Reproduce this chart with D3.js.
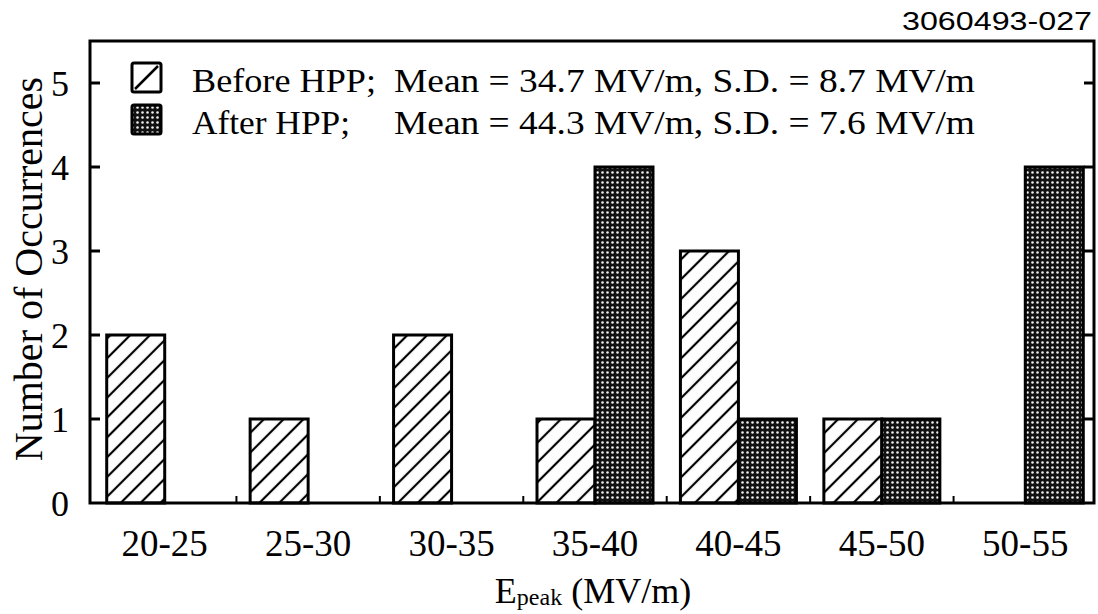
<!DOCTYPE html>
<html>
<head>
<meta charset="utf-8">
<script src="https://cdn.jsdelivr.net/npm/d3@7"></script>
<style>
body { margin: 0; background: #fff; }
text { fill: #000; }
</style>
</head>
<body>
<svg id="chart" width="1098" height="614"></svg>
<script>
// data
var categories = ["20-25", "25-30", "30-35", "35-40", "40-45", "45-50", "50-55"];
var beforeCounts = [2, 1, 2, 1, 3, 1, 0];
var afterCounts = [0, 0, 0, 4, 1, 1, 4];
var yTicks = [0, 1, 2, 3, 4, 5];
var legendLabels = ["Before HPP;", "After HPP;"];
var legendStats = ["Mean = 34.7 MV/m, S.D. = 8.7 MV/m", "Mean = 44.3 MV/m, S.D. = 7.6 MV/m"];

var svg = d3.select("#chart");
var plotLeft = 90, plotRight = 1094, plotTop = 41, plotBottom = 503;
var serif = "'Liberation Serif', 'Times New Roman', serif";

var x = d3.scaleBand().domain(categories).range([93, 1097]);
var y = d3.scaleLinear().domain([0, 5.5]).range([plotBottom, plotTop]);
var barW = 58;

// patterns
var defs = svg.append("defs");
var hatch = defs.append("pattern")
  .attr("id", "hatch")
  .attr("patternUnits", "userSpaceOnUse")
  .attr("width", 14).attr("height", 14)
  .attr("patternTransform", "rotate(45)");
hatch.append("rect").attr("width", 14).attr("height", 14).attr("fill", "#fff");
hatch.append("line")
  .attr("x1", 7).attr("y1", 0).attr("x2", 7).attr("y2", 14)
  .attr("stroke", "#000").attr("stroke-width", 2.2);

var dots = defs.append("pattern")
  .attr("id", "dots")
  .attr("patternUnits", "userSpaceOnUse")
  .attr("width", 5).attr("height", 5);
dots.append("rect").attr("width", 5).attr("height", 5).attr("fill", "#111");
dots.append("circle").attr("cx", 2.5).attr("cy", 2.5).attr("r", 1.3).attr("fill", "#eee");

// bars
var rows = categories.map(function (c, i) {
  return { cat: c, before: beforeCounts[i], after: afterCounts[i] };
});

svg.append("g").selectAll("rect")
  .data(rows.filter(function (d) { return d.before > 0; }))
  .enter().append("rect")
  .attr("x", function (d) { return x(d.cat) + x.bandwidth() / 2 - barW; })
  .attr("y", function (d) { return y(d.before); })
  .attr("width", barW)
  .attr("height", function (d) { return y(0) - y(d.before); })
  .attr("fill", "url(#hatch)")
  .attr("stroke", "#000")
  .attr("stroke-width", 3);

svg.append("g").selectAll("rect")
  .data(rows.filter(function (d) { return d.after > 0; }))
  .enter().append("rect")
  .attr("x", function (d) { return x(d.cat) + x.bandwidth() / 2; })
  .attr("y", function (d) { return y(d.after); })
  .attr("width", barW)
  .attr("height", function (d) { return y(0) - y(d.after); })
  .attr("fill", "url(#dots)")
  .attr("stroke", "#000")
  .attr("stroke-width", 3);

// frame
svg.append("rect")
  .attr("x", plotLeft).attr("y", plotTop)
  .attr("width", plotRight - plotLeft).attr("height", plotBottom - plotTop)
  .attr("fill", "none").attr("stroke", "#000").attr("stroke-width", 3);

// y ticks, inward on both sides
var tk = svg.append("g").attr("stroke", "#000").attr("stroke-width", 3);
yTicks.filter(function (t) { return t > 0; }).forEach(function (t) {
  tk.append("line").attr("x1", plotLeft).attr("x2", plotLeft + 10).attr("y1", y(t)).attr("y2", y(t));
  tk.append("line").attr("x1", plotRight - 10).attr("x2", plotRight).attr("y1", y(t)).attr("y2", y(t));
});
// small ticks between groups on the bottom
categories.slice(1).forEach(function (c) {
  tk.append("line").attr("x1", x(c)).attr("x2", x(c)).attr("y1", plotBottom).attr("y2", plotBottom - 7)
    .attr("stroke-width", 2);
});

svg.append("g").selectAll("text")
  .data(yTicks)
  .enter().append("text")
  .attr("x", 69)
  .attr("y", function (d) { return y(d) + 13; })
  .attr("text-anchor", "end")
  .style("font-family", serif)
  .style("font-size", "36px")
  .text(function (d) { return d; });

svg.append("g").selectAll("text")
  .data(categories)
  .enter().append("text")
  .attr("x", function (d) { return x(d) + x.bandwidth() / 2; })
  .attr("y", 556)
  .attr("text-anchor", "middle")
  .style("font-family", serif)
  .style("font-size", "37px")
  .text(function (d) { return d; });

// axis titles
svg.append("text")
  .attr("transform", "translate(42,269) rotate(-90)")
  .attr("text-anchor", "middle")
  .style("font-family", serif)
  .style("font-size", "40px")
  .text("Number of Occurrences");

var xt = svg.append("text")
  .attr("x", 593).attr("y", 603)
  .attr("text-anchor", "middle")
  .style("font-family", serif)
  .style("font-size", "36px");
xt.append("tspan").text("E");
xt.append("tspan").attr("dy", 2).style("font-size", "24px").text("peak");
xt.append("tspan").attr("dy", -2).text(" (MV/m)");

// legend
var lg = svg.append("g");
[0, 1].forEach(function (i) {
  var by = 63 + i * 42;
  lg.append("rect")
    .attr("x", 132).attr("y", by).attr("width", 29).attr("height", 29)
    .attr("rx", 2)
    .attr("fill", i === 0 ? "#fff" : "url(#dots)")
    .attr("stroke", "#000").attr("stroke-width", 3);
  if (i === 0) {
    lg.append("line")
      .attr("x1", 135).attr("y1", by + 26).attr("x2", 158).attr("y2", by + 3)
      .attr("stroke", "#000").attr("stroke-width", 2.5);
  }
  lg.append("text")
    .attr("x", 192).attr("y", by + 29)
    .style("font-family", serif)
    .style("font-size", "34px")
    .attr("textLength", i === 0 ? 184 : 158)
    .attr("lengthAdjust", "spacingAndGlyphs")
    .text(legendLabels[i]);
  lg.append("text")
    .attr("x", 394).attr("y", by + 29)
    .style("font-family", serif)
    .style("font-size", "34px")
    .attr("textLength", 581)
    .attr("lengthAdjust", "spacingAndGlyphs")
    .text(legendStats[i]);
});

// figure id top right
svg.append("text")
  .attr("x", 1092).attr("y", 30)
  .attr("text-anchor", "end")
  .style("font-family", "'Liberation Sans', Arial, sans-serif")
  .style("font-size", "25px")
  .attr("textLength", 190)
  .attr("lengthAdjust", "spacingAndGlyphs")
  .text("3060493-027");
</script>
</body>
</html>
